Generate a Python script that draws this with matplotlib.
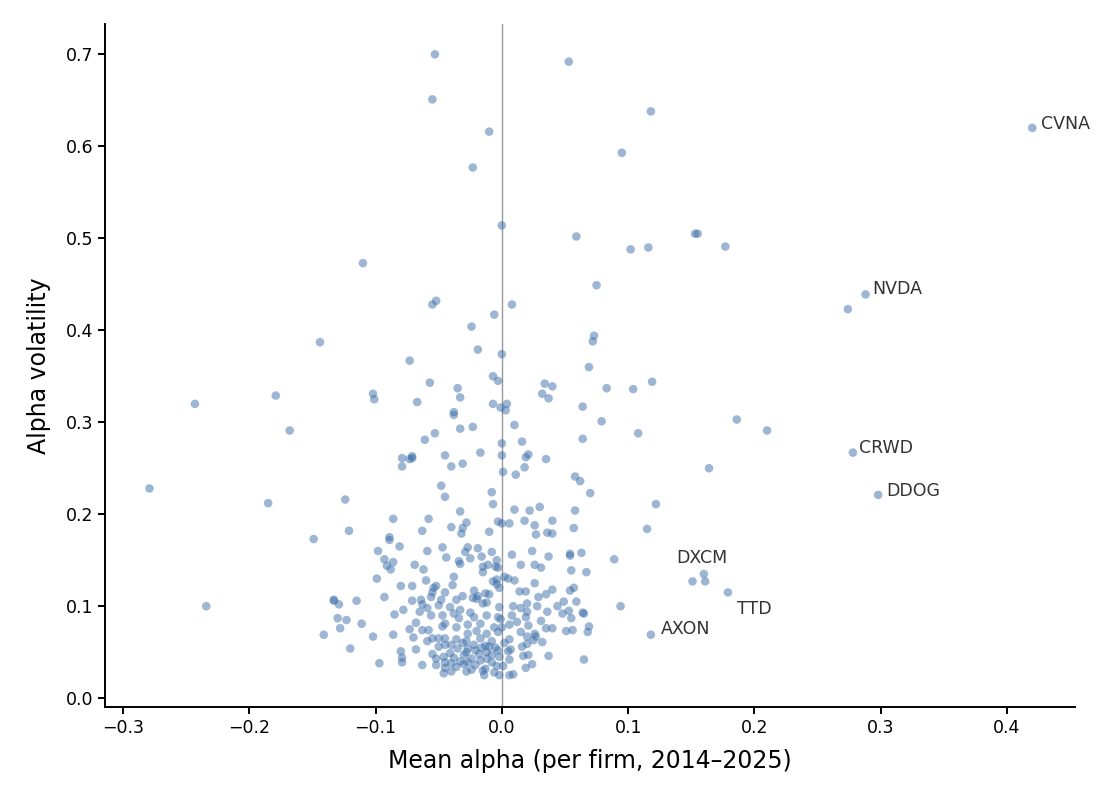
import matplotlib.pyplot as plt
import numpy as np

# mean alpha per firm (x) and alpha volatility (y)
pts = [
    (-0.053, 0.700), (0.053, 0.692), (-0.055, 0.651), (0.118, 0.638), (-0.010, 0.616),
    (0.420, 0.620), (0.095, 0.593), (-0.023, 0.577), (0.000, 0.514), (0.059, 0.502),
    (0.153, 0.505), (0.155, 0.505), (0.102, 0.488), (0.116, 0.490), (0.177, 0.491),
    (-0.110, 0.473), (0.075, 0.449), (0.288, 0.439), (0.274, 0.423), (-0.055, 0.428),
    (-0.052, 0.432), (0.008, 0.428), (-0.006, 0.417), (-0.024, 0.404), (0.073, 0.394),
    (0.072, 0.388), (-0.144, 0.387), (-0.019, 0.379), (0.000, 0.374), (-0.073, 0.367),
    (0.069, 0.360), (-0.007, 0.350), (-0.003, 0.345), (0.119, 0.344), (-0.057, 0.343),
    (0.034, 0.342), (0.040, 0.339), (-0.035, 0.337), (0.083, 0.337), (0.104, 0.336),
    (-0.102, 0.331), (0.032, 0.331), (-0.179, 0.329), (-0.033, 0.327), (0.037, 0.326),
    (-0.101, 0.325), (-0.067, 0.322), (-0.243, 0.320), (-0.007, 0.320), (0.004, 0.320),
    (0.064, 0.317), (-0.001, 0.316), (0.003, 0.313), (-0.038, 0.311), (-0.038, 0.308),
    (0.186, 0.303), (0.079, 0.301), (0.010, 0.297), (-0.023, 0.295), (-0.033, 0.293),
    (-0.168, 0.291), (0.210, 0.291), (0.108, 0.288), (-0.053, 0.288), (0.064, 0.282),
    (-0.061, 0.281), (0.016, 0.279), (0.000, 0.277), (0.278, 0.267), (-0.017, 0.267),
    (0.021, 0.265), (0.000, 0.264), (-0.045, 0.264), (-0.071, 0.263), (-0.071, 0.261),
    (-0.073, 0.260), (-0.079, 0.261), (0.019, 0.262), (0.035, 0.260), (-0.031, 0.255),
    (-0.040, 0.252), (-0.079, 0.252), (0.018, 0.251), (0.164, 0.250), (0.001, 0.246),
    (0.011, 0.243), (0.058, 0.241), (0.062, 0.236), (-0.048, 0.231), (-0.279, 0.228),
    (0.070, 0.223), (-0.008, 0.224), (0.298, 0.221), (-0.045, 0.219), (-0.124, 0.216),
    (-0.185, 0.212), (0.122, 0.211), (-0.007, 0.211), (0.030, 0.208), (0.010, 0.205),
    (0.022, 0.204), (0.058, 0.204), (-0.033, 0.203), (-0.058, 0.195), (-0.086, 0.195),
    (0.040, 0.193), (0.018, 0.193), (-0.003, 0.192), (0.000, 0.190), (0.006, 0.190),
    (-0.028, 0.191), (-0.040, 0.186), (0.026, 0.188), (-0.031, 0.185), (0.057, 0.185),
    (0.115, 0.184), (-0.121, 0.182), (-0.063, 0.182), (-0.010, 0.181), (0.036, 0.180),
    (0.027, 0.178), (0.040, 0.179), (-0.032, 0.179), (-0.089, 0.175), (-0.089, 0.172),
    (-0.149, 0.173), (-0.081, 0.165), (-0.047, 0.164), (-0.027, 0.164), (-0.019, 0.163),
    (-0.098, 0.160), (-0.059, 0.160), (-0.029, 0.159), (-0.008, 0.159), (0.024, 0.160),
    (0.063, 0.158), (0.054, 0.157), (0.054, 0.155), (0.008, 0.156), (-0.016, 0.154),
    (0.037, 0.154), (-0.044, 0.153), (-0.025, 0.152), (-0.093, 0.151), (0.089, 0.151),
    (-0.004, 0.150), (-0.034, 0.149), (-0.086, 0.148), (-0.033, 0.146), (-0.091, 0.144),
    (0.015, 0.145), (-0.069, 0.145), (-0.011, 0.145), (0.026, 0.145), (-0.015, 0.143),
    (-0.005, 0.143), (-0.003, 0.142), (0.031, 0.142), (-0.062, 0.140), (-0.088, 0.140),
    (0.055, 0.139), (0.067, 0.137), (-0.015, 0.137), (0.160, 0.135), (0.151, 0.127),
    (0.161, 0.127), (-0.038, 0.132), (-0.099, 0.130), (0.002, 0.132), (0.005, 0.130),
    (-0.004, 0.129), (0.010, 0.128), (-0.060, 0.128), (0.026, 0.125), (-0.007, 0.127),
    (-0.004, 0.124), (-0.039, 0.123), (-0.080, 0.122), (-0.071, 0.122), (-0.052, 0.122),
    (-0.002, 0.120), (-0.054, 0.120), (0.057, 0.120), (0.040, 0.118), (0.054, 0.117),
    (-0.022, 0.117), (0.179, 0.115), (0.019, 0.116), (0.014, 0.116), (0.035, 0.113),
    (-0.055, 0.115), (-0.045, 0.115), (-0.013, 0.114), (-0.010, 0.113), (-0.019, 0.111),
    (-0.031, 0.111), (-0.093, 0.110), (0.029, 0.110), (-0.056, 0.110), (-0.023, 0.109),
    (-0.020, 0.108), (-0.133, 0.107), (-0.133, 0.106), (-0.115, 0.106), (-0.064, 0.107),
    (-0.048, 0.107), (-0.036, 0.107), (0.049, 0.105), (0.059, 0.105), (-0.071, 0.106),
    (-0.015, 0.103), (-0.012, 0.104), (0.020, 0.103), (-0.129, 0.102), (-0.063, 0.102),
    (-0.050, 0.101), (0.009, 0.100), (0.028, 0.100), (0.094, 0.100), (-0.234, 0.100),
    (0.044, 0.100), (-0.002, 0.099), (0.015, 0.098), (-0.041, 0.099), (-0.059, 0.098),
    (-0.078, 0.096), (-0.033, 0.096), (0.053, 0.095), (0.064, 0.093), (0.065, 0.092),
    (0.036, 0.094), (0.020, 0.094), (-0.065, 0.094), (-0.025, 0.093), (0.048, 0.092),
    (-0.038, 0.092), (-0.085, 0.091), (-0.047, 0.090), (-0.056, 0.090), (-0.012, 0.090),
    (0.008, 0.090), (-0.022, 0.088), (0.019, 0.088), (-0.003, 0.088), (-0.034, 0.087),
    (0.055, 0.087), (-0.130, 0.087), (-0.123, 0.085), (-0.001, 0.086), (0.031, 0.084),
    (0.012, 0.083), (-0.068, 0.082), (-0.111, 0.081), (-0.045, 0.081), (-0.017, 0.081),
    (-0.027, 0.080), (0.006, 0.080), (0.021, 0.079), (0.069, 0.078), (-0.047, 0.078),
    (-0.036, 0.077), (-0.006, 0.077), (0.000, 0.077), (0.040, 0.076), (0.035, 0.076),
    (-0.128, 0.076), (-0.073, 0.075), (-0.063, 0.074), (-0.058, 0.074), (-0.020, 0.073),
    (0.051, 0.073), (0.068, 0.072), (0.056, 0.074), (-0.003, 0.072), (0.015, 0.072),
    (0.026, 0.070), (-0.027, 0.070), (-0.012, 0.070), (0.118, 0.069), (-0.141, 0.069),
    (-0.086, 0.069), (-0.102, 0.067), (0.020, 0.067), (0.027, 0.067), (-0.070, 0.066),
    (-0.017, 0.065), (-0.045, 0.065), (-0.050, 0.065), (-0.055, 0.065), (-0.036, 0.064),
    (0.006, 0.064), (0.025, 0.063), (-0.028, 0.062), (-0.059, 0.062), (-0.008, 0.062),
    (-0.031, 0.060), (0.032, 0.061), (0.002, 0.060), (0.020, 0.059), (-0.022, 0.058),
    (-0.013, 0.057), (-0.040, 0.058), (-0.045, 0.058), (-0.010, 0.056), (0.016, 0.056),
    (-0.050, 0.056), (-0.005, 0.055), (-0.016, 0.055), (-0.027, 0.054), (-0.120, 0.054),
    (-0.035, 0.054), (0.007, 0.053), (-0.068, 0.053), (-0.021, 0.052), (-0.003, 0.052),
    (0.005, 0.051), (-0.080, 0.051), (-0.012, 0.050), (-0.028, 0.050), (-0.041, 0.049),
    (-0.018, 0.048), (-0.055, 0.048), (0.021, 0.047), (-0.008, 0.047), (-0.030, 0.047),
    (0.017, 0.046), (0.037, 0.046), (-0.046, 0.045), (-0.002, 0.045), (-0.079, 0.044),
    (-0.038, 0.044), (-0.024, 0.043), (-0.012, 0.043), (-0.052, 0.043), (0.006, 0.042),
    (0.065, 0.042), (-0.017, 0.041), (-0.033, 0.040), (-0.027, 0.039), (-0.045, 0.039),
    (-0.079, 0.039), (-0.008, 0.039), (-0.040, 0.038), (-0.097, 0.038), (-0.030, 0.037),
    (0.024, 0.037), (-0.063, 0.036), (-0.052, 0.036), (-0.021, 0.036), (-0.004, 0.035),
    (0.001, 0.035), (-0.036, 0.034), (-0.045, 0.033), (0.019, 0.033), (-0.013, 0.032),
    (-0.024, 0.031), (-0.015, 0.030), (-0.040, 0.029), (-0.028, 0.029), (-0.006, 0.028),
    (-0.046, 0.027), (0.009, 0.026), (0.006, 0.025), (-0.002, 0.025), (-0.014, 0.025),
]
mean_alpha = np.array([p[0] for p in pts])
alpha_vol = np.array([p[1] for p in pts])

# labelled firms: text position in data units
labels = ["CVNA", "NVDA", "CRWD", "DDOG", "DXCM", "TTD", "AXON"]
label_x = [0.427, 0.293, 0.283, 0.304, 0.138, 0.186, 0.126]
label_y = [0.624, 0.445, 0.272, 0.225, 0.152, 0.097, 0.075]

fig = plt.figure(figsize=(11.2, 8), dpi=100)
ax = fig.add_axes([0.094, 0.116, 0.866, 0.854])

ax.axvline(0, color="gray", lw=1, alpha=0.8, zorder=0)
ax.scatter(mean_alpha, alpha_vol, s=38, color="#3C6EA8", alpha=0.5, edgecolors="none")

for name, tx, ty in zip(labels, label_x, label_y):
    ax.text(tx, ty, name, fontsize=12.5, color="#333333", va="center")

ax.set_xlim(-0.314, 0.454)
ax.set_ylim(-0.0098, 0.733)
ax.set_xticks([-0.3, -0.2, -0.1, 0.0, 0.1, 0.2, 0.3, 0.4])
ax.set_yticks([0.0, 0.1, 0.2, 0.3, 0.4, 0.5, 0.6, 0.7])
ax.tick_params(labelsize=12.5, width=1.4, length=5)
for s in ["left", "bottom"]:
    ax.spines[s].set_linewidth(1.4)
ax.spines["top"].set_visible(False)
ax.spines["right"].set_visible(False)
ax.set_xlabel("Mean alpha (per firm, 2014\u20132025)", fontsize=17, labelpad=8.5)
ax.set_ylabel("Alpha volatility", fontsize=17, labelpad=11)

plt.savefig("out.png")
